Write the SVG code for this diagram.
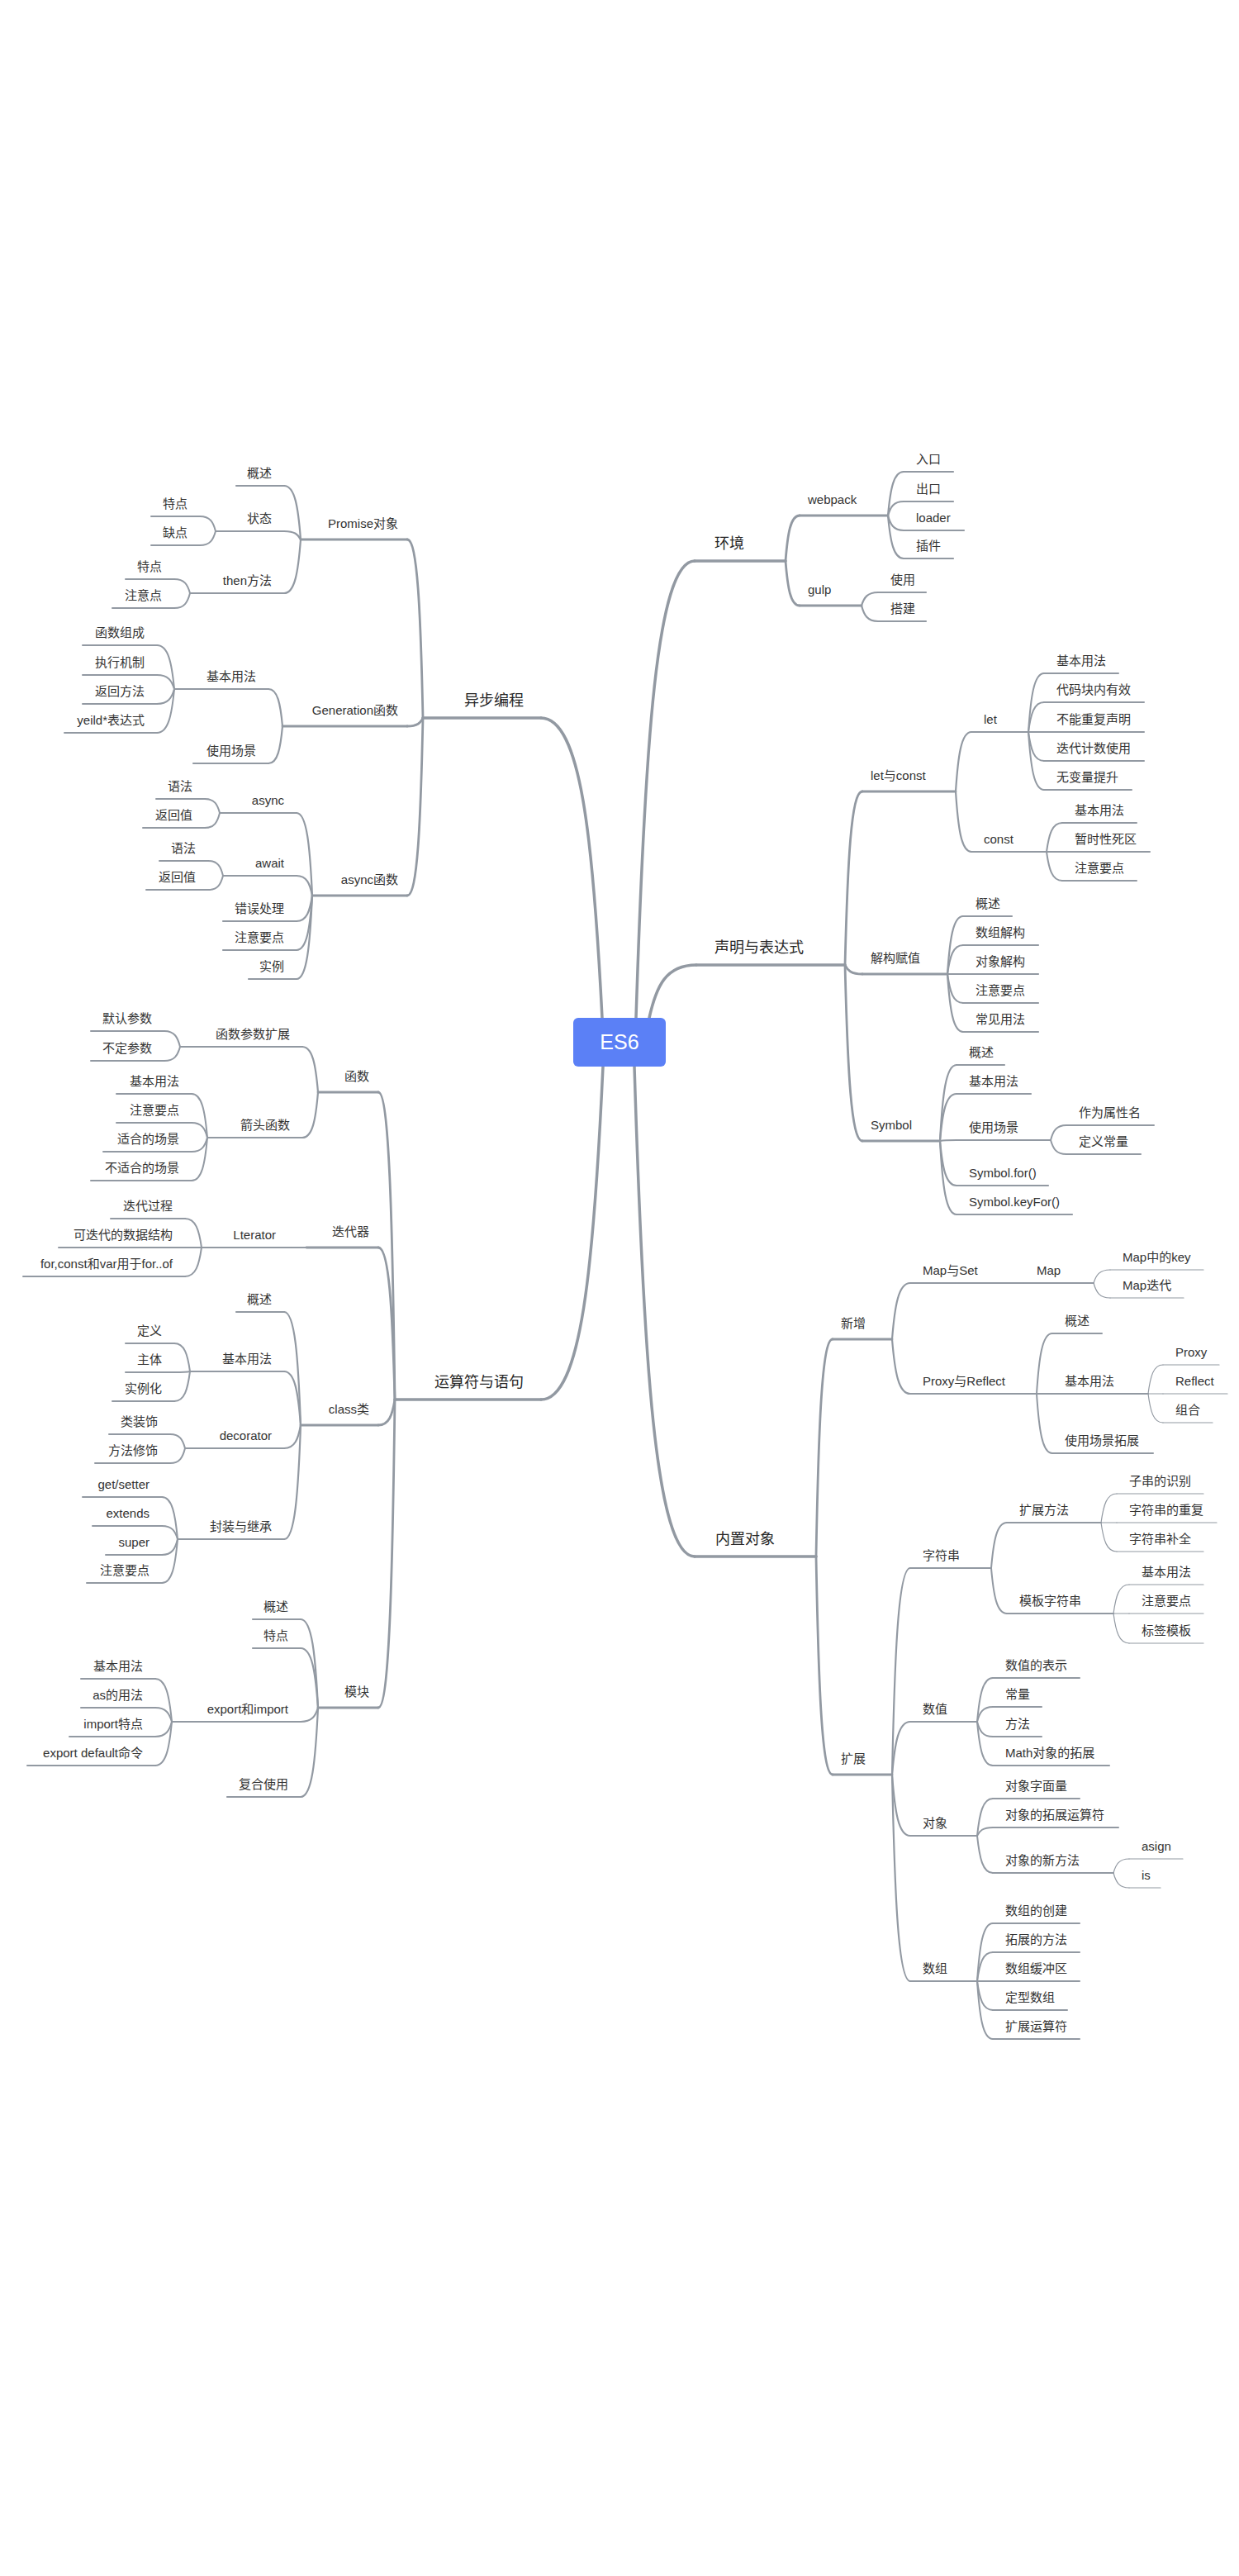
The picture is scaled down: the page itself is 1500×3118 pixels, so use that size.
<svg xmlns="http://www.w3.org/2000/svg" width="1500" height="3118" viewBox="0 0 1500 3118">
<style>
.c{fill:none;stroke:#9299a2;stroke-linecap:round}
.w1{stroke-width:3.5}.w2{stroke-width:2.8}.w3{stroke-width:2.2}.w4{stroke-width:2}.w5{stroke-width:1.2}
text{font-family:"Liberation Sans","Noto Sans CJK SC",sans-serif;font-size:15px;fill:#333}
.t1{font-size:18px;fill:#262626}
.e{text-anchor:end}
</style>
<rect width="1500" height="3118" fill="#fff"/>
<g id="connectors">
<path class="c w1" d="M770 1232C780.7 900.2 794.9 679 841 679"/>
<path class="c w1" d="M786 1232C794.6 1193.6 806 1168 843 1168"/>
<path class="c w1" d="M768 1291C779 1646.8 793.6 1884 841 1884"/>
<path class="c w1" d="M729 1232C717.9 1014.2 703.1 869 655 869"/>
<path class="c w1" d="M730 1291C718.8 1532.8 703.8 1694 655 1694"/>
<path class="c w2" d="M951 679C953.6 646 957 624 968 624"/>
<path class="c w2" d="M951 679C953.6 711.4 957 733 968 733"/>
<path class="c w3" d="M1075 624C1077.9 592.2 1081.7 571 1094 571"/>
<path class="c w3" d="M1075 624C1077.9 613.8 1081.7 607 1094 607"/>
<path class="c w3" d="M1075 624C1077.9 634.8 1081.7 642 1094 642"/>
<path class="c w3" d="M1075 624C1077.9 655.2 1081.7 676 1094 676"/>
<path class="c w3" d="M1043 733C1046 723.4 1050 717 1063 717"/>
<path class="c w3" d="M1043 733C1046 744.4 1050 752 1063 752"/>
<path class="c w2" d="M1023 1168C1026.2 1042 1030.4 958 1044 958"/>
<path class="c w2" d="M1023 1168C1026.2 1174.6 1030.4 1179 1044 1179"/>
<path class="c w2" d="M1023 1168C1026.2 1295.8 1030.4 1381 1044 1381"/>
<path class="c w3" d="M1157 958C1159.9 914.8 1163.7 886 1176 886"/>
<path class="c w3" d="M1157 958C1159.9 1001.8 1163.7 1031 1176 1031"/>
<path class="c w4" d="M1245 886C1247.9 843.4 1251.7 815 1264 815"/>
<path class="c w4" d="M1245 886C1247.9 864.4 1251.7 850 1264 850"/>
<path class="c w4" d="M1245 886H1264"/>
<path class="c w4" d="M1245 886C1247.9 907 1251.7 921 1264 921"/>
<path class="c w4" d="M1245 886C1247.9 928 1251.7 956 1264 956"/>
<path class="c w4" d="M1267 1031C1269.9 1010 1273.7 996 1286 996"/>
<path class="c w4" d="M1267 1031H1286"/>
<path class="c w4" d="M1267 1031C1269.9 1052 1273.7 1066 1286 1066"/>
<path class="c w3" d="M1147 1179C1149.9 1137 1153.7 1109 1166 1109"/>
<path class="c w3" d="M1147 1179C1149.9 1158 1153.7 1144 1166 1144"/>
<path class="c w3" d="M1147 1179H1166"/>
<path class="c w3" d="M1147 1179C1149.9 1200 1153.7 1214 1166 1214"/>
<path class="c w3" d="M1147 1179C1149.9 1221 1153.7 1249 1166 1249"/>
<path class="c w3" d="M1138 1381C1141 1325.8 1145 1289 1158 1289"/>
<path class="c w3" d="M1138 1381C1141 1346.8 1145 1324 1158 1324"/>
<path class="c w3" d="M1138 1381C1141 1380.4 1145 1380 1158 1380"/>
<path class="c w3" d="M1138 1381C1141 1413.4 1145 1435 1158 1435"/>
<path class="c w3" d="M1138 1381C1141 1434.4 1145 1470 1158 1470"/>
<path class="c w4" d="M1272 1380C1274.9 1369.2 1278.7 1362 1291 1362"/>
<path class="c w4" d="M1272 1380C1274.9 1390.2 1278.7 1397 1291 1397"/>
<path class="c w2" d="M988 1884C991 1726.2 995 1621 1008 1621"/>
<path class="c w2" d="M988 1884C991 2042.4 995 2148 1008 2148"/>
<path class="c w3" d="M1080 1621C1083.3 1580.2 1087.7 1553 1102 1553"/>
<path class="c w3" d="M1080 1621C1083.3 1660.6 1087.7 1687 1102 1687"/>
<path class="c w4" d="M1221 1553H1240"/>
<path class="c w5" d="M1324 1553C1327 1543.4 1331 1537 1344 1537"/>
<path class="c w5" d="M1324 1553C1327 1563.8 1331 1571 1344 1571"/>
<path class="c w4" d="M1255 1687C1257.9 1643.2 1261.7 1614 1274 1614"/>
<path class="c w4" d="M1255 1687H1274"/>
<path class="c w4" d="M1255 1687C1257.9 1730.2 1261.7 1759 1274 1759"/>
<path class="c w5" d="M1390 1687C1392.7 1666 1396.3 1652 1408 1652"/>
<path class="c w5" d="M1390 1687H1408"/>
<path class="c w5" d="M1390 1687C1392.7 1708 1396.3 1722 1408 1722"/>
<path class="c w3" d="M1080 2148C1083.3 1998 1087.7 1898 1102 1898"/>
<path class="c w3" d="M1080 2148C1083.3 2109.6 1087.7 2084 1102 2084"/>
<path class="c w3" d="M1080 2148C1083.3 2192.4 1087.7 2222 1102 2222"/>
<path class="c w3" d="M1080 2148C1083.3 2298 1087.7 2398 1102 2398"/>
<path class="c w4" d="M1200 1898C1202.9 1865 1206.7 1843 1219 1843"/>
<path class="c w4" d="M1200 1898C1202.9 1931 1206.7 1953 1219 1953"/>
<path class="c w5" d="M1333 1843C1335.9 1822 1339.7 1808 1352 1808"/>
<path class="c w5" d="M1333 1843H1352"/>
<path class="c w5" d="M1333 1843C1335.9 1864 1339.7 1878 1352 1878"/>
<path class="c w5" d="M1348 1953C1350.9 1932 1354.7 1918 1367 1918"/>
<path class="c w5" d="M1348 1953H1367"/>
<path class="c w5" d="M1348 1953C1350.9 1974.6 1354.7 1989 1367 1989"/>
<path class="c w4" d="M1183 2084C1185.9 2052.2 1189.7 2031 1202 2031"/>
<path class="c w4" d="M1183 2084C1185.9 2073.2 1189.7 2066 1202 2066"/>
<path class="c w4" d="M1183 2084C1185.9 2094.8 1189.7 2102 1202 2102"/>
<path class="c w4" d="M1183 2084C1185.9 2115.8 1189.7 2137 1202 2137"/>
<path class="c w4" d="M1183 2222C1185.9 2195 1189.7 2177 1202 2177"/>
<path class="c w4" d="M1183 2222C1185.9 2216 1189.7 2212 1202 2212"/>
<path class="c w4" d="M1183 2222C1185.9 2249 1189.7 2267 1202 2267"/>
<path class="c w5" d="M1348 2267C1350.9 2256.8 1354.7 2250 1367 2250"/>
<path class="c w5" d="M1348 2267C1350.9 2277.8 1354.7 2285 1367 2285"/>
<path class="c w4" d="M1183 2398C1185.9 2356 1189.7 2328 1202 2328"/>
<path class="c w4" d="M1183 2398C1185.9 2377 1189.7 2363 1202 2363"/>
<path class="c w4" d="M1183 2398H1202"/>
<path class="c w4" d="M1183 2398C1185.9 2419 1189.7 2433 1202 2433"/>
<path class="c w4" d="M1183 2398C1185.9 2440 1189.7 2468 1202 2468"/>
<path class="c w2" d="M512 869C509.2 739.4 505.4 653 493 653"/>
<path class="c w2" d="M512 869C509.2 875 505.4 879 493 879"/>
<path class="c w2" d="M512 869C509.2 998 505.4 1084 493 1084"/>
<path class="c w3" d="M364 653C361 614 357 588 344 588"/>
<path class="c w3" d="M364 653C361 647 357 643 344 643"/>
<path class="c w3" d="M364 653C361 692 357 718 344 718"/>
<path class="c w4" d="M261 643C258.2 632.2 254.4 625 242 625"/>
<path class="c w4" d="M261 643C258.2 653.2 254.4 660 242 660"/>
<path class="c w4" d="M230 718C227.2 707.8 223.4 701 211 701"/>
<path class="c w4" d="M230 718C227.2 728.8 223.4 736 211 736"/>
<path class="c w3" d="M342 879C339.5 852 336.1 834 325 834"/>
<path class="c w3" d="M342 879C339.5 906 336.1 924 325 924"/>
<path class="c w4" d="M211 834C207.9 802.2 203.7 781 190 781"/>
<path class="c w4" d="M211 834C207.9 823.8 203.7 817 190 817"/>
<path class="c w4" d="M211 834C207.9 844.8 203.7 852 190 852"/>
<path class="c w4" d="M211 834C207.9 865.8 203.7 887 190 887"/>
<path class="c w3" d="M378 1084C375.2 1024 371.4 984 359 984"/>
<path class="c w3" d="M378 1084C375.2 1069.6 371.4 1060 359 1060"/>
<path class="c w3" d="M378 1084C375.2 1102.6 371.4 1115 359 1115"/>
<path class="c w3" d="M378 1084C375.2 1123.6 371.4 1150 359 1150"/>
<path class="c w3" d="M378 1084C375.2 1144.6 371.4 1185 359 1185"/>
<path class="c w4" d="M266 984C263.3 973.8 259.7 967 248 967"/>
<path class="c w4" d="M266 984C263.3 994.8 259.7 1002 248 1002"/>
<path class="c w4" d="M270 1060C267.3 1049.2 263.7 1042 252 1042"/>
<path class="c w4" d="M270 1060C267.3 1070.2 263.7 1077 252 1077"/>
<path class="c w2" d="M478 1694C475 1470.8 471 1322 458 1322"/>
<path class="c w2" d="M478 1694C475 1583.6 471 1510 458 1510"/>
<path class="c w2" d="M478 1694C475 1712.6 471 1725 458 1725"/>
<path class="c w2" d="M478 1694C475 1917.8 471 2067 458 2067"/>
<path class="c w3" d="M385 1322C382.2 1289 378.4 1267 366 1267"/>
<path class="c w3" d="M385 1322C382.2 1355 378.4 1377 366 1377"/>
<path class="c w4" d="M218 1267C215.2 1255.6 211.4 1248 199 1248"/>
<path class="c w4" d="M218 1267C215.2 1277.2 211.4 1284 199 1284"/>
<path class="c w4" d="M251 1377C248.2 1345.2 244.4 1324 232 1324"/>
<path class="c w4" d="M251 1377C248.2 1366.2 244.4 1359 232 1359"/>
<path class="c w4" d="M251 1377C248.2 1387.2 244.4 1394 232 1394"/>
<path class="c w4" d="M251 1377C248.2 1408.2 244.4 1429 232 1429"/>
<path class="c w3" d="M371 1510H352"/>
<path class="c w4" d="M244 1510C241 1489 237 1475 224 1475"/>
<path class="c w4" d="M244 1510H224"/>
<path class="c w4" d="M244 1510C241 1531 237 1545 224 1545"/>
<path class="c w3" d="M364 1725C361 1642.8 357 1588 344 1588"/>
<path class="c w3" d="M364 1725C361 1686 357 1660 344 1660"/>
<path class="c w3" d="M364 1725C361 1741.8 357 1753 344 1753"/>
<path class="c w3" d="M364 1725C361 1807.8 357 1863 344 1863"/>
<path class="c w4" d="M230 1660C227.2 1639.6 223.4 1626 211 1626"/>
<path class="c w4" d="M230 1660C227.2 1660.6 223.4 1661 211 1661"/>
<path class="c w4" d="M230 1660C227.2 1681.6 223.4 1696 211 1696"/>
<path class="c w4" d="M224 1753C221.3 1742.8 217.7 1736 206 1736"/>
<path class="c w4" d="M224 1753C221.3 1763.8 217.7 1771 206 1771"/>
<path class="c w4" d="M215 1863C212.2 1832.6 208.4 1812 196 1812"/>
<path class="c w4" d="M215 1863C212.2 1853.4 208.4 1847 196 1847"/>
<path class="c w4" d="M215 1863C212.2 1874.4 208.4 1882 196 1882"/>
<path class="c w4" d="M215 1863C212.2 1894.8 208.4 1916 196 1916"/>
<path class="c w3" d="M385 2067C381.9 2003.8 377.7 1960 364 1960"/>
<path class="c w3" d="M385 2067C381.9 2023.8 377.7 1995 364 1995"/>
<path class="c w3" d="M385 2067C381.9 2077.2 377.7 2084 364 2084"/>
<path class="c w3" d="M385 2067C381.9 2131.8 377.7 2175 364 2175"/>
<path class="c w4" d="M208 2084C205 2052.8 201 2032 188 2032"/>
<path class="c w4" d="M208 2084C205 2073.8 201 2067 188 2067"/>
<path class="c w4" d="M208 2084C205 2094.8 201 2102 188 2102"/>
<path class="c w4" d="M208 2084C205 2115.8 201 2137 188 2137"/>
</g>
<g id="root"><rect x="694" y="1232" width="112" height="59" rx="6" fill="#5b80f6"/><text x="750" y="1270" text-anchor="middle" style="font-size:25px;fill:#fff">ES6</text></g>
<g id="n-huanjing"><path class="c w1" d="M841 679H951"/><text class="t1" x="865" y="664">环境</text></g>
<g id="n-webpack"><path class="c w2" d="M968 624H1075"/><text x="978" y="609.5">webpack</text></g>
<g id="n-rukou"><path class="c w3" d="M1094 571H1154"/><text x="1109" y="560.5">入口</text></g>
<g id="n-chukou"><path class="c w3" d="M1094 607H1154"/><text x="1109" y="596.5">出口</text></g>
<g id="n-loader"><path class="c w3" d="M1094 642H1167"/><text x="1109" y="631.5">loader</text></g>
<g id="n-chajian"><path class="c w3" d="M1094 676H1154"/><text x="1109" y="665.5">插件</text></g>
<g id="n-gulp"><path class="c w2" d="M968 733H1043"/><text x="978" y="718.5">gulp</text></g>
<g id="n-gulp-use"><path class="c w3" d="M1063 717H1121"/><text x="1078" y="706.5">使用</text></g>
<g id="n-gulp-build"><path class="c w3" d="M1063 752H1121"/><text x="1078" y="741.5">搭建</text></g>
<g id="n-shengming"><path class="c w1" d="M843 1168H1023"/><text class="t1" x="865" y="1153">声明与表达式</text></g>
<g id="n-letconst"><path class="c w2" d="M1044 958H1157"/><text x="1054" y="943.5">let与const</text></g>
<g id="n-let"><path class="c w3" d="M1176 886H1245"/><text x="1191" y="875.5">let</text></g>
<g id="n-let-1"><path class="c w4" d="M1264 815H1354"/><text x="1279" y="804.5">基本用法</text></g>
<g id="n-let-2"><path class="c w4" d="M1264 850H1385"/><text x="1279" y="839.5">代码块内有效</text></g>
<g id="n-let-3"><path class="c w4" d="M1264 886H1385"/><text x="1279" y="875.5">不能重复声明</text></g>
<g id="n-let-4"><path class="c w4" d="M1264 921H1385"/><text x="1279" y="910.5">迭代计数使用</text></g>
<g id="n-let-5"><path class="c w4" d="M1264 956H1370"/><text x="1279" y="945.5">无变量提升</text></g>
<g id="n-const"><path class="c w3" d="M1176 1031H1267"/><text x="1191" y="1020.5">const</text></g>
<g id="n-const-1"><path class="c w4" d="M1286 996H1376"/><text x="1301" y="985.5">基本用法</text></g>
<g id="n-const-2"><path class="c w4" d="M1286 1031H1392"/><text x="1301" y="1020.5">暂时性死区</text></g>
<g id="n-const-3"><path class="c w4" d="M1286 1066H1376"/><text x="1301" y="1055.5">注意要点</text></g>
<g id="n-jiegou"><path class="c w2" d="M1044 1179H1147"/><text x="1054" y="1164.5">解构赋值</text></g>
<g id="n-jiegou-1"><path class="c w3" d="M1166 1109H1225"/><text x="1181" y="1098.5">概述</text></g>
<g id="n-jiegou-2"><path class="c w3" d="M1166 1144H1257"/><text x="1181" y="1133.5">数组解构</text></g>
<g id="n-jiegou-3"><path class="c w3" d="M1166 1179H1257"/><text x="1181" y="1168.5">对象解构</text></g>
<g id="n-jiegou-4"><path class="c w3" d="M1166 1214H1257"/><text x="1181" y="1203.5">注意要点</text></g>
<g id="n-jiegou-5"><path class="c w3" d="M1166 1249H1257"/><text x="1181" y="1238.5">常见用法</text></g>
<g id="n-symbol"><path class="c w2" d="M1044 1381H1138"/><text x="1054" y="1366.5">Symbol</text></g>
<g id="n-symbol-1"><path class="c w3" d="M1158 1289H1216"/><text x="1173" y="1278.5">概述</text></g>
<g id="n-symbol-2"><path class="c w3" d="M1158 1324H1248"/><text x="1173" y="1313.5">基本用法</text></g>
<g id="n-symbol-3"><path class="c w3" d="M1158 1380H1272"/><text x="1173" y="1369.5">使用场景</text></g>
<g id="n-symbol-3a"><path class="c w4" d="M1291 1362H1397"/><text x="1306" y="1351.5">作为属性名</text></g>
<g id="n-symbol-3b"><path class="c w4" d="M1291 1397H1381"/><text x="1306" y="1386.5">定义常量</text></g>
<g id="n-symbol-4"><path class="c w3" d="M1158 1435H1269"/><text x="1173" y="1424.5">Symbol.for()</text></g>
<g id="n-symbol-5"><path class="c w3" d="M1158 1470H1298"/><text x="1173" y="1459.5">Symbol.keyFor()</text></g>
<g id="n-neizhi"><path class="c w1" d="M841 1884H988"/><text class="t1" x="866" y="1869">内置对象</text></g>
<g id="n-xinzeng"><path class="c w2" d="M1008 1621H1080"/><text x="1018" y="1606.5">新增</text></g>
<g id="n-mapset"><path class="c w3" d="M1102 1553H1221"/><text x="1117" y="1542.5">Map与Set</text></g>
<g id="n-map"><path class="c w4" d="M1240 1553H1324"/><text x="1255" y="1542.5">Map</text></g>
<g id="n-map-1"><path class="c w5" d="M1344 1537H1457"/><text x="1359" y="1526.5">Map中的key</text></g>
<g id="n-map-2"><path class="c w5" d="M1344 1571H1433"/><text x="1359" y="1560.5">Map迭代</text></g>
<g id="n-proxy"><path class="c w3" d="M1102 1687H1255"/><text x="1117" y="1676.5">Proxy与Reflect</text></g>
<g id="n-proxy-1"><path class="c w4" d="M1274 1614H1334"/><text x="1289" y="1603.5">概述</text></g>
<g id="n-proxy-2"><path class="c w4" d="M1274 1687H1390"/><text x="1289" y="1676.5">基本用法</text></g>
<g id="n-proxy-2a"><path class="c w5" d="M1408 1652H1476"/><text x="1423" y="1641.5">Proxy</text></g>
<g id="n-proxy-2b"><path class="c w5" d="M1408 1687H1486"/><text x="1423" y="1676.5">Reflect</text></g>
<g id="n-proxy-2c"><path class="c w5" d="M1408 1722H1468"/><text x="1423" y="1711.5">组合</text></g>
<g id="n-proxy-3"><path class="c w4" d="M1274 1759H1396"/><text x="1289" y="1748.5">使用场景拓展</text></g>
<g id="n-kuozhan"><path class="c w2" d="M1008 2148H1080"/><text x="1018" y="2133.5">扩展</text></g>
<g id="n-string"><path class="c w3" d="M1102 1898H1200"/><text x="1117" y="1887.5">字符串</text></g>
<g id="n-string-1"><path class="c w4" d="M1219 1843H1333"/><text x="1234" y="1832.5">扩展方法</text></g>
<g id="n-string-1a"><path class="c w5" d="M1352 1808H1457"/><text x="1367" y="1797.5">子串的识别</text></g>
<g id="n-string-1b"><path class="c w5" d="M1352 1843H1473"/><text x="1367" y="1832.5">字符串的重复</text></g>
<g id="n-string-1c"><path class="c w5" d="M1352 1878H1457"/><text x="1367" y="1867.5">字符串补全</text></g>
<g id="n-string-2"><path class="c w4" d="M1219 1953H1348"/><text x="1234" y="1942.5">模板字符串</text></g>
<g id="n-string-2a"><path class="c w5" d="M1367 1918H1457"/><text x="1382" y="1907.5">基本用法</text></g>
<g id="n-string-2b"><path class="c w5" d="M1367 1953H1457"/><text x="1382" y="1942.5">注意要点</text></g>
<g id="n-string-2c"><path class="c w5" d="M1367 1989H1457"/><text x="1382" y="1978.5">标签模板</text></g>
<g id="n-number"><path class="c w3" d="M1102 2084H1183"/><text x="1117" y="2073.5">数值</text></g>
<g id="n-number-1"><path class="c w4" d="M1202 2031H1307"/><text x="1217" y="2020.5">数值的表示</text></g>
<g id="n-number-2"><path class="c w4" d="M1202 2066H1261"/><text x="1217" y="2055.5">常量</text></g>
<g id="n-number-3"><path class="c w4" d="M1202 2102H1261"/><text x="1217" y="2091.5">方法</text></g>
<g id="n-number-4"><path class="c w4" d="M1202 2137H1343"/><text x="1217" y="2126.5">Math对象的拓展</text></g>
<g id="n-object"><path class="c w3" d="M1102 2222H1183"/><text x="1117" y="2211.5">对象</text></g>
<g id="n-object-1"><path class="c w4" d="M1202 2177H1307"/><text x="1217" y="2166.5">对象字面量</text></g>
<g id="n-object-2"><path class="c w4" d="M1202 2212H1354"/><text x="1217" y="2201.5">对象的拓展运算符</text></g>
<g id="n-object-3"><path class="c w4" d="M1202 2267H1348"/><text x="1217" y="2256.5">对象的新方法</text></g>
<g id="n-object-3a"><path class="c w5" d="M1367 2250H1432"/><text x="1382" y="2239.5">asign</text></g>
<g id="n-object-3b"><path class="c w5" d="M1367 2285H1405"/><text x="1382" y="2274.5">is</text></g>
<g id="n-array"><path class="c w3" d="M1102 2398H1183"/><text x="1117" y="2387.5">数组</text></g>
<g id="n-array-1"><path class="c w4" d="M1202 2328H1307"/><text x="1217" y="2317.5">数组的创建</text></g>
<g id="n-array-2"><path class="c w4" d="M1202 2363H1307"/><text x="1217" y="2352.5">拓展的方法</text></g>
<g id="n-array-3"><path class="c w4" d="M1202 2398H1307"/><text x="1217" y="2387.5">数组缓冲区</text></g>
<g id="n-array-4"><path class="c w4" d="M1202 2433H1292"/><text x="1217" y="2422.5">定型数组</text></g>
<g id="n-array-5"><path class="c w4" d="M1202 2468H1307"/><text x="1217" y="2457.5">扩展运算符</text></g>
<g id="n-async-prog"><path class="c w1" d="M512 869H655"/><text class="t1 e" x="634" y="854">异步编程</text></g>
<g id="n-promise"><path class="c w2" d="M364 653H493"/><text class="e" x="482" y="638.5">Promise对象</text></g>
<g id="n-promise-1"><path class="c w3" d="M286 588H344"/><text class="e" x="329" y="577.5">概述</text></g>
<g id="n-promise-2"><path class="c w3" d="M261 643H344"/><text class="e" x="329" y="632.5">状态</text></g>
<g id="n-promise-2a"><path class="c w4" d="M183 625H242"/><text class="e" x="227" y="614.5">特点</text></g>
<g id="n-promise-2b"><path class="c w4" d="M183 660H242"/><text class="e" x="227" y="649.5">缺点</text></g>
<g id="n-promise-3"><path class="c w3" d="M230 718H344"/><text class="e" x="329" y="707.5">then方法</text></g>
<g id="n-promise-3a"><path class="c w4" d="M152 701H211"/><text class="e" x="196" y="690.5">特点</text></g>
<g id="n-promise-3b"><path class="c w4" d="M136 736H211"/><text class="e" x="196" y="725.5">注意点</text></g>
<g id="n-generation"><path class="c w2" d="M342 879H493"/><text class="e" x="482" y="864.5">Generation函数</text></g>
<g id="n-gen-1"><path class="c w3" d="M211 834H325"/><text class="e" x="310" y="823.5">基本用法</text></g>
<g id="n-gen-1a"><path class="c w4" d="M100 781H190"/><text class="e" x="175" y="770.5">函数组成</text></g>
<g id="n-gen-1b"><path class="c w4" d="M100 817H190"/><text class="e" x="175" y="806.5">执行机制</text></g>
<g id="n-gen-1c"><path class="c w4" d="M100 852H190"/><text class="e" x="175" y="841.5">返回方法</text></g>
<g id="n-gen-1d"><path class="c w4" d="M78 887H190"/><text class="e" x="175" y="876.5">yeild*表达式</text></g>
<g id="n-gen-2"><path class="c w3" d="M234 924H325"/><text class="e" x="310" y="913.5">使用场景</text></g>
<g id="n-asyncfn"><path class="c w2" d="M378 1084H493"/><text class="e" x="482" y="1069.5">async函数</text></g>
<g id="n-async"><path class="c w3" d="M266 984H359"/><text class="e" x="344" y="973.5">async</text></g>
<g id="n-async-a"><path class="c w4" d="M189 967H248"/><text class="e" x="233" y="956.5">语法</text></g>
<g id="n-async-b"><path class="c w4" d="M173 1002H248"/><text class="e" x="233" y="991.5">返回值</text></g>
<g id="n-await"><path class="c w3" d="M270 1060H359"/><text class="e" x="344" y="1049.5">await</text></g>
<g id="n-await-a"><path class="c w4" d="M193 1042H252"/><text class="e" x="237" y="1031.5">语法</text></g>
<g id="n-await-b"><path class="c w4" d="M177 1077H252"/><text class="e" x="237" y="1066.5">返回值</text></g>
<g id="n-async-err"><path class="c w3" d="M270 1115H359"/><text class="e" x="344" y="1104.5">错误处理</text></g>
<g id="n-async-note"><path class="c w3" d="M270 1150H359"/><text class="e" x="344" y="1139.5">注意要点</text></g>
<g id="n-async-ex"><path class="c w3" d="M301 1185H359"/><text class="e" x="344" y="1174.5">实例</text></g>
<g id="n-operator"><path class="c w1" d="M478 1694H655"/><text class="t1 e" x="634" y="1679">运算符与语句</text></g>
<g id="n-func"><path class="c w2" d="M385 1322H458"/><text class="e" x="447" y="1307.5">函数</text></g>
<g id="n-func-1"><path class="c w3" d="M218 1267H366"/><text class="e" x="351" y="1256.5">函数参数扩展</text></g>
<g id="n-func-1a"><path class="c w4" d="M110 1248H199"/><text class="e" x="184" y="1237.5">默认参数</text></g>
<g id="n-func-1b"><path class="c w4" d="M110 1284H199"/><text class="e" x="184" y="1273.5">不定参数</text></g>
<g id="n-func-2"><path class="c w3" d="M251 1377H366"/><text class="e" x="351" y="1366.5">箭头函数</text></g>
<g id="n-func-2a"><path class="c w4" d="M141 1324H232"/><text class="e" x="217" y="1313.5">基本用法</text></g>
<g id="n-func-2b"><path class="c w4" d="M141 1359H232"/><text class="e" x="217" y="1348.5">注意要点</text></g>
<g id="n-func-2c"><path class="c w4" d="M125 1394H232"/><text class="e" x="217" y="1383.5">适合的场景</text></g>
<g id="n-func-2d"><path class="c w4" d="M110 1429H232"/><text class="e" x="217" y="1418.5">不适合的场景</text></g>
<g id="n-iter"><path class="c w2" d="M371 1510H458"/><text class="e" x="447" y="1495.5">迭代器</text></g>
<g id="n-lterator"><path class="c w3" d="M244 1510H352"/><text class="e" x="334" y="1499.5">Lterator</text></g>
<g id="n-lter-1"><path class="c w4" d="M134 1475H224"/><text class="e" x="209" y="1464.5">迭代过程</text></g>
<g id="n-lter-2"><path class="c w4" d="M71 1510H224"/><text class="e" x="209" y="1499.5">可迭代的数据结构</text></g>
<g id="n-lter-3"><path class="c w4" d="M28 1545H224"/><text class="e" x="209" y="1534.5">for,const和var用于for..of</text></g>
<g id="n-class"><path class="c w2" d="M364 1725H458"/><text class="e" x="447" y="1710.5">class类</text></g>
<g id="n-class-1"><path class="c w3" d="M286 1588H344"/><text class="e" x="329" y="1577.5">概述</text></g>
<g id="n-class-2"><path class="c w3" d="M230 1660H344"/><text class="e" x="329" y="1649.5">基本用法</text></g>
<g id="n-class-2a"><path class="c w4" d="M152 1626H211"/><text class="e" x="196" y="1615.5">定义</text></g>
<g id="n-class-2b"><path class="c w4" d="M152 1661H211"/><text class="e" x="196" y="1650.5">主体</text></g>
<g id="n-class-2c"><path class="c w4" d="M136 1696H211"/><text class="e" x="196" y="1685.5">实例化</text></g>
<g id="n-class-3"><path class="c w3" d="M224 1753H344"/><text class="e" x="329" y="1742.5">decorator</text></g>
<g id="n-class-3a"><path class="c w4" d="M132 1736H206"/><text class="e" x="191" y="1725.5">类装饰</text></g>
<g id="n-class-3b"><path class="c w4" d="M115 1771H206"/><text class="e" x="191" y="1760.5">方法修饰</text></g>
<g id="n-class-4"><path class="c w3" d="M215 1863H344"/><text class="e" x="329" y="1852.5">封装与继承</text></g>
<g id="n-class-4a"><path class="c w4" d="M100 1812H196"/><text class="e" x="181" y="1801.5">get/setter</text></g>
<g id="n-class-4b"><path class="c w4" d="M112 1847H196"/><text class="e" x="181" y="1836.5">extends</text></g>
<g id="n-class-4c"><path class="c w4" d="M128 1882H196"/><text class="e" x="181" y="1871.5">super</text></g>
<g id="n-class-4d"><path class="c w4" d="M105 1916H196"/><text class="e" x="181" y="1905.5">注意要点</text></g>
<g id="n-module"><path class="c w2" d="M385 2067H458"/><text class="e" x="447" y="2052.5">模块</text></g>
<g id="n-module-1"><path class="c w3" d="M306 1960H364"/><text class="e" x="349" y="1949.5">概述</text></g>
<g id="n-module-2"><path class="c w3" d="M306 1995H364"/><text class="e" x="349" y="1984.5">特点</text></g>
<g id="n-module-3"><path class="c w3" d="M208 2084H364"/><text class="e" x="349" y="2073.5">export和import</text></g>
<g id="n-module-3a"><path class="c w4" d="M98 2032H188"/><text class="e" x="173" y="2021.5">基本用法</text></g>
<g id="n-module-3b"><path class="c w4" d="M98 2067H188"/><text class="e" x="173" y="2056.5">as的用法</text></g>
<g id="n-module-3c"><path class="c w4" d="M84 2102H188"/><text class="e" x="173" y="2091.5">import特点</text></g>
<g id="n-module-3d"><path class="c w4" d="M33 2137H188"/><text class="e" x="173" y="2126.5">export default命令</text></g>
<g id="n-module-4"><path class="c w3" d="M275 2175H364"/><text class="e" x="349" y="2164.5">复合使用</text></g>
</svg>
